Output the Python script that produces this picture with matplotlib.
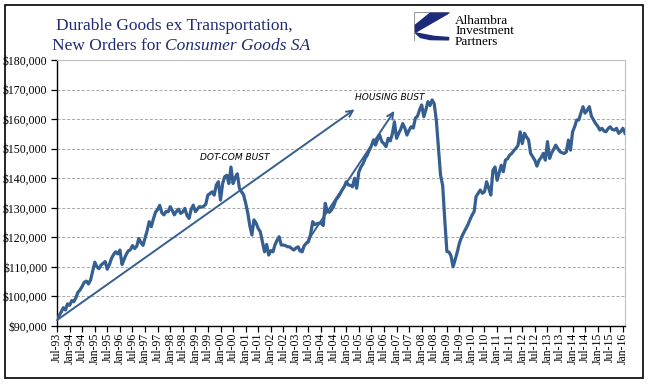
import numpy as np
import pandas as pd
import matplotlib
matplotlib.use('Agg')
import matplotlib.pyplot as plt
import matplotlib.dates as mdates
from matplotlib.ticker import FuncFormatter
from matplotlib.patches import Polygon, Rectangle

# monthly new orders, thousands of dollars
orders_1993 = [92.3, 93.5, 94.8, 96.2, 95.4, 97.5]
orders_1994 = [97.0, 98.6, 98.2, 99.5, 101.4, 102.2, 103.4, 104.8, 105.2, 104.2, 105.6, 108.5]
orders_1995 = [111.6, 110.0, 109.4, 110.6, 111.2, 111.8, 109.2, 110.8, 112.9, 114.2, 115.1, 114.4]
orders_1996 = [115.7, 110.8, 112.5, 114.2, 115.4, 115.8, 117.2, 116.2, 117.0, 119.6, 118.2, 117.3]
orders_1997 = [119.8, 122.4, 125.3, 123.6, 126.2, 128.5, 129.4, 130.8, 128.3, 127.6, 128.8, 128.6]
orders_1998 = [130.4, 129.0, 127.6, 128.8, 129.5, 128.1, 128.6, 129.8, 127.4, 126.4, 129.5, 130.9]
orders_1999 = [128.7, 129.6, 130.4, 130.2, 130.5, 131.2, 134.3, 134.8, 135.4, 134.3, 137.7, 138.8]
orders_2000 = [132.6, 138.2, 140.5, 141.0, 138.2, 143.8, 138.2, 140.2, 141.5, 136.6, 135.4, 134.4]
orders_2001 = [131.5, 128.1, 124.0, 120.8, 125.9, 124.8, 123.0, 121.9, 118.5, 115.1, 117.6, 114.0]
orders_2002 = [115.5, 115.1, 117.4, 119.0, 120.2, 117.4, 117.4, 117.2, 116.8, 116.8, 116.2, 115.7]
orders_2003 = [116.4, 116.8, 115.4, 115.1, 117.2, 118.0, 118.5, 121.0, 125.3, 124.3, 124.6, 124.8]
orders_2004 = [124.8, 124.0, 131.5, 128.7, 128.5, 129.3, 130.5, 132.6, 133.5, 134.6, 136.0, 137.1]
orders_2005 = [138.8, 137.7, 137.6, 137.1, 140.0, 136.6, 142.0, 143.8, 144.9, 146.7, 147.8, 149.5]
orders_2006 = [151.0, 153.0, 151.2, 153.2, 154.6, 152.4, 151.7, 150.7, 153.5, 152.6, 155.0, 159.1]
orders_2007 = [153.5, 155.2, 156.5, 158.5, 157.0, 154.6, 156.2, 157.4, 157.0, 160.3, 161.0, 163.1]
orders_2008 = [164.8, 160.8, 163.1, 165.9, 164.6, 166.5, 165.2, 159.5, 150.0, 141.0, 137.5, 126.0]
orders_2009 = [115.2, 115.0, 113.8, 110.0, 112.4, 115.0, 118.0, 120.0, 121.5, 122.8, 124.2, 125.9]
orders_2010 = [127.5, 128.7, 133.8, 134.9, 136.0, 134.9, 135.4, 138.8, 136.6, 134.3, 142.7, 143.8]
orders_2011 = [139.3, 142.0, 144.4, 142.2, 146.1, 146.6, 147.8, 148.4, 149.4, 150.1, 151.2, 155.7]
orders_2012 = [151.7, 155.2, 154.0, 153.0, 148.4, 147.2, 146.1, 144.1, 146.1, 147.0, 148.4, 146.1]
orders_2013 = [152.4, 146.7, 148.5, 149.8, 151.2, 150.0, 149.0, 148.6, 148.4, 148.9, 152.9, 149.5]
orders_2014 = [155.7, 157.5, 159.7, 159.7, 162.0, 164.2, 162.0, 163.0, 164.2, 161.0, 159.7, 158.5]
orders_2015 = [157.6, 156.3, 156.9, 156.0, 155.7, 156.8, 157.4, 156.5, 156.3, 156.9, 155.2, 155.8]
orders_2016 = [156.9, 155.2]

# annotation arrows and labels: (date, value)
dotcom_arrow = [('1993-07-01', 92000), ('2005-05-01', 163300)]
housing_arrow = [('2003-04-01', 116000), ('2006-12-01', 162800)]
dotcom_label = ('2000-08-01', 146900, 'DOT-COM BUST')
housing_label = ('2006-10-01', 167400, 'HOUSING BUST')

line_color = '#365F91'
title_color = '#1F2B73'

orders = np.array(orders_1993 + orders_1994 + orders_1995 + orders_1996 + orders_1997 + orders_1998 +
                  orders_1999 + orders_2000 + orders_2001 + orders_2002 + orders_2003 + orders_2004 +
                  orders_2005 + orders_2006 + orders_2007 + orders_2008 + orders_2009 + orders_2010 +
                  orders_2011 + orders_2012 + orders_2013 + orders_2014 + orders_2015 + orders_2016) * 1000
months = pd.date_range('1993-07-01', periods=len(orders), freq='MS')

serif = 'Liberation Serif'
fig = plt.figure(figsize=(6.5, 3.92), dpi=100)
ax = fig.add_axes([57 / 650, 66 / 392, 568 / 650, 266 / 392])

ax.plot(months, orders, color=line_color, lw=2.3, solid_joinstyle='round', zorder=3)

for arrow in (dotcom_arrow, housing_arrow):
    (x0, y0), (x1, y1) = arrow
    ax.annotate('', xy=(pd.Timestamp(x1), y1), xytext=(pd.Timestamp(x0), y0),
                arrowprops=dict(arrowstyle='->,head_length=0.45,head_width=0.22', color=line_color,
                                lw=1.4, shrinkA=0, shrinkB=0), zorder=4)

for date, val, txt in (dotcom_label, housing_label):
    ax.text(pd.Timestamp(date), val, txt, ha='center', va='center', style='italic',
            fontsize=6.5, family='DejaVu Sans', color='black')

ax.set_ylim(90000, 180000)
ax.set_xlim(months[0], months[-1])
ax.set_yticks(np.arange(90000, 180001, 10000))
ax.yaxis.set_major_formatter(FuncFormatter(lambda v, p: '${:,.0f}'.format(v)))
ax.xaxis.set_major_locator(mdates.MonthLocator(bymonth=(1, 7)))
ax.xaxis.set_major_formatter(mdates.DateFormatter('%b-%y'))
ax.grid(axis='y', color='#A6A6A6', ls=(0, (3, 2)), lw=0.7)
ax.grid(axis='x', visible=False)

for lab in ax.get_xticklabels():
    lab.set_rotation(90)
ax.tick_params(axis='x', direction='out', length=4, width=0.9, pad=1, labelsize=8.5, color='black')
ax.tick_params(axis='y', direction='out', length=4, width=0.9, pad=3, labelsize=8.5, color='black')
for lab in ax.get_xticklabels() + ax.get_yticklabels():
    lab.set_family(serif)

ax.spines['left'].set_color('black')
ax.spines['bottom'].set_color('black')
ax.spines['left'].set_linewidth(1.0)
ax.spines['bottom'].set_linewidth(1.0)
ax.spines['top'].set_color('#BFBFBF')
ax.spines['right'].set_color('#BFBFBF')

# title
fig.text(174 / 650, 362 / 392, 'Durable Goods ex Transportation,', ha='center', va='baseline',
         family=serif, fontsize=12.5, color=title_color)
fig.text(165 / 650, 342 / 392, 'New Orders for ', ha='right', va='baseline',
         family=serif, fontsize=12.5, color=title_color)
fig.text(165 / 650, 342 / 392, 'Consumer Goods SA', ha='left', va='baseline',
         family=serif, fontsize=12.5, color=title_color, style='italic')

# logo
logo = fig.add_axes([414 / 650, 351 / 392, 36 / 650, 29 / 392])
logo.set_xlim(0, 1)
logo.set_ylim(0, 1)
logo.axis('off')
logo.add_patch(Rectangle((0, 0), 1, 1, fill=False, ec='#9A9A9A', lw=0.8))
logo.add_patch(Polygon([(0.45, 0.96), (0.96, 0.96), (0.04, 0.30), (0.04, 0.55)], color='#1C2A7A'))
logo.add_patch(Polygon([(0.04, 0.28), (0.18, 0.12), (0.45, 0.05), (0.96, 0.04), (0.96, 0.12),
                        (0.55, 0.16), (0.30, 0.22)], color='#1C2A7A'))
for i, word in enumerate(['Alhambra', 'Investment', 'Partners']):
    fig.text(455 / 650, (368 - 10.5 * i) / 392, word, ha='left', va='baseline',
             family=serif, fontsize=9.5, color='black')

# outer frame
fig.add_artist(Rectangle((5 / 650, 14 / 392), 638 / 650, 373 / 392, transform=fig.transFigure,
                         fill=False, ec='black', lw=1.2))

fig.savefig('out.png', dpi=100)
